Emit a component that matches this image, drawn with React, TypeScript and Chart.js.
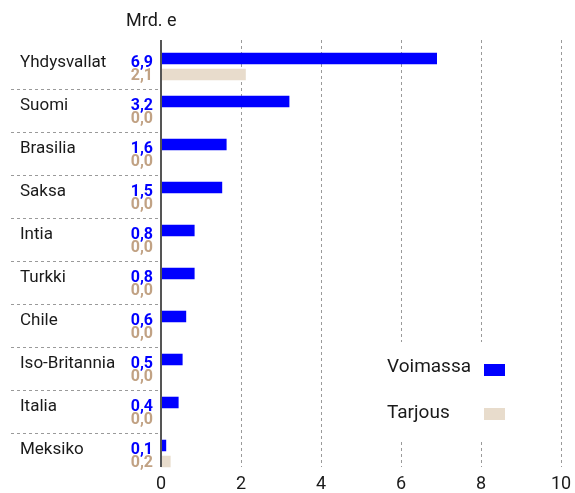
import React, { useEffect, useRef } from "react";
import { Chart, registerables } from "chart.js";

Chart.register(...registerables);

const categories = [
  "Yhdysvallat",
  "Suomi",
  "Brasilia",
  "Saksa",
  "Intia",
  "Turkki",
  "Chile",
  "Iso-Britannia",
  "Italia",
  "Meksiko",
];
const voimassa = [6.9, 3.21, 1.64, 1.53, 0.84, 0.84, 0.63, 0.54, 0.44, 0.13];
const tarjous = [2.12, 0, 0, 0, 0, 0, 0, 0, 0, 0.24];
const seriesLabels = ["Voimassa", "Tarjous"];
const seriesColors = ["#0000ff", "#e8dccc"];
const valueColors = ["#0000ff", "#c1a284"];
const xTicks = [0, 2, 4, 6, 8, 10];
const unitLabel = "Mrd. e";

const FONT = "Roboto";
const fmt = (v: number) => v.toFixed(1).replace(".", ",");

const decorPlugin = {
  id: "decor",
  beforeDatasetsDraw(chart: any) {
    const { ctx, chartArea: area, scales } = chart;
    const xs = scales.x;
    const ys = scales.y;
    const gTop = area.top - 5;
    const gBottom = area.bottom - 8;
    ctx.save();
    ctx.strokeStyle = "#9a9a9a";
    ctx.lineWidth = 1;
    ctx.setLineDash([3, 3]);
    xTicks.forEach((t) => {
      if (t === 0) return;
      const x = Math.round(xs.getPixelForValue(t)) + 0.5;
      ctx.beginPath();
      ctx.moveTo(x, gTop);
      ctx.lineTo(x, gBottom);
      ctx.stroke();
    });
    for (let i = 1; i < categories.length; i++) {
      const y =
        Math.round((ys.getPixelForValue(i - 1) + ys.getPixelForValue(i)) / 2) + 1.5;
      ctx.beginPath();
      ctx.moveTo(11, y);
      ctx.lineTo(area.left - 1, y);
      ctx.stroke();
    }
    ctx.restore();
  },
  afterDatasetsDraw(chart: any) {
    const { ctx, chartArea: area, scales } = chart;
    const xs = scales.x;
    const ys = scales.y;
    const gTop = area.top - 5;
    const gBottom = area.bottom - 8;
    ctx.save();
    // zero axis
    ctx.strokeStyle = "#555555";
    ctx.lineWidth = 2;
    ctx.setLineDash([]);
    const x0 = xs.getPixelForValue(0);
    ctx.beginPath();
    ctx.moveTo(x0, gTop);
    ctx.lineTo(x0, gBottom);
    ctx.stroke();

    // category names and value labels
    ctx.textBaseline = "alphabetic";
    categories.forEach((name, i) => {
      const c = ys.getPixelForValue(i);
      ctx.font = `17px ${FONT}`;
      ctx.fillStyle = "#1a1a1a";
      ctx.textAlign = "left";
      ctx.fillText(name, 20, c);
      ctx.font = `bold 16px ${FONT}`;
      ctx.textAlign = "right";
      ctx.fillStyle = valueColors[0];
      ctx.fillText(fmt(voimassa[i]), area.left - 8, c);
      ctx.fillStyle = valueColors[1];
      ctx.fillText(fmt(tarjous[i]), area.left - 8, c + 13);
    });

    // unit title
    ctx.font = `18px ${FONT}`;
    ctx.fillStyle = "#1a1a1a";
    ctx.textAlign = "left";
    ctx.fillText(unitLabel, 126, 26);

    // legend
    ctx.fillStyle = "#ffffff";
    ctx.fillRect(372, 342, 146, 99);
    const legendY = [372, 418];
    const boxY = [364, 408];
    seriesLabels.forEach((lab, i) => {
      ctx.font = `19px ${FONT}`;
      ctx.fillStyle = "#1a1a1a";
      ctx.textAlign = "left";
      ctx.fillText(lab, 387, legendY[i]);
      ctx.fillStyle = seriesColors[i];
      ctx.fillRect(484, boxY[i], 21, 12);
    });
    ctx.restore();
  },
};

export default function App() {
  const ref = useRef<HTMLCanvasElement | null>(null);
  useEffect(() => {
    if (!ref.current) return;
    const chart = new Chart(ref.current, {
      type: "bar",
      data: {
        labels: categories,
        datasets: [
          {
            label: seriesLabels[0],
            data: voimassa,
            backgroundColor: seriesColors[0],
            categoryPercentage: 0.745,
            barPercentage: 0.72,
          },
          {
            label: seriesLabels[1],
            data: tarjous,
            backgroundColor: seriesColors[1],
            categoryPercentage: 0.745,
            barPercentage: 0.72,
          },
        ],
      },
      options: {
        indexAxis: "y",
        animation: false,
        responsive: false,
        maintainAspectRatio: false,
        layout: { padding: { left: 161, right: 14, top: 45, bottom: 0 } },
        plugins: {
          legend: { display: false },
          tooltip: { enabled: false },
          title: { display: false },
        },
        scales: {
          x: {
            type: "linear",
            min: 0,
            max: 10,
            afterBuildTicks: (scale: any) => {
              scale.ticks = xTicks.map((v) => ({ value: v }));
            },
            ticks: {
              font: { family: FONT, size: 18, lineHeight: 1 },
              color: "#1a1a1a",
              padding: 0,
            },
            grid: { display: false, drawTicks: false },
            border: { display: false },
          },
          y: {
            type: "category",
            display: false,
          },
        },
      },
      plugins: [decorPlugin],
    });
    return () => chart.destroy();
  }, []);
  return (
    <div style={{ position: "fixed", left: 0, top: 0, width: 575, height: 493, background: "#fff" }}>
      <canvas ref={ref} width={575} height={493} style={{ width: 575, height: 493, display: "block" }} />
    </div>
  );
}
